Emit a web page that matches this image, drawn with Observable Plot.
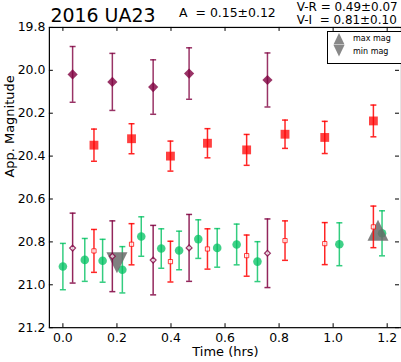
<!DOCTYPE html>
<html>
<head>
<meta charset="utf-8">
<script src="https://cdn.jsdelivr.net/npm/d3@7"></script>
<script src="https://cdn.jsdelivr.net/npm/@observablehq/plot@0.6"></script>
<style>
html, body { margin: 0; padding: 0; overflow: hidden; background: #fff; }
#wrap { position: relative; width: 401px; height: 362px; overflow: hidden; }
#legend { position: absolute; left: 327px; top: 31px; width: 80px; height: 31px; border: 1px solid #000; background: #fff; box-sizing: content-box; }
#legend svg { position: absolute; left: 0; top: 0; }
.lbl { position: absolute; left: 25px; font-family: "DejaVu Sans", sans-serif; font-size: 8px; line-height: 10px; color: #000; white-space: nowrap; }
</style>
</head>
<body>
<div id="wrap">
  <div id="chart"></div>
  <div id="legend"></div>
</div>
<script>
// ---- Text ----
const titleText = "2016 UA23";
const ampText = "A\u00a0 = 0.15\u00b10.12";
const vrText = "V-R = 0.49\u00b10.07";
const viText = "V-I\u00a0 = 0.81\u00b10.10";
const xLabel = "Time (hrs)";
const yLabel = "App. Magnitude";
const legendLabels = ["max mag", "min mag"];

// ---- Ticks ----
const xTicks = [0.0, 0.2, 0.4, 0.6, 0.8, 1.0, 1.2];
const yTicks = [19.8, 20.0, 20.2, 20.4, 20.6, 20.8, 21.0, 21.2];

// ---- V band (filled purple diamonds) ----
const vTime = [0.036, 0.183, 0.334, 0.467, 0.757];
const vMag  = [20.019, 20.054, 20.078, 20.015, 20.045];
const vErr  = [0.130, 0.133, 0.127, 0.120, 0.126];

// ---- R band (filled red squares) ----
const rTime = [0.115, 0.254, 0.398, 0.535, 0.680, 0.822, 0.969, 1.149];
const rMag  = [20.349, 20.319, 20.400, 20.340, 20.371, 20.298, 20.313, 20.236];
const rErr  = [0.075, 0.070, 0.070, 0.068, 0.072, 0.066, 0.075, 0.074];

// ---- I band (green circles) ----
const iTime = [0.000, 0.081, 0.147, 0.220, 0.290, 0.364, 0.430, 0.501, 0.571, 0.643, 0.720, 1.023, 1.181];
const iMag  = [20.915, 20.884, 20.888, 20.930, 20.775, 20.831, 20.840, 20.787, 20.828, 20.812, 20.892, 20.811, 20.760];
const iErr  = [0.108, 0.100, 0.100, 0.108, 0.092, 0.092, 0.090, 0.090, 0.090, 0.095, 0.093, 0.100, 0.105];

// ---- R shifted (open red squares) ----
const rcTime = [0.115, 0.254, 0.398, 0.535, 0.680, 0.822, 0.969, 1.149];
const rcMag  = [20.842, 20.811, 20.892, 20.833, 20.864, 20.794, 20.808, 20.730];
const rcErr  = [0.100, 0.096, 0.095, 0.094, 0.096, 0.092, 0.098, 0.097];

// ---- V shifted (open purple diamonds) ----
const vcTime = [0.036, 0.183, 0.334, 0.467, 0.757];
const vcMag  = [20.829, 20.867, 20.885, 20.828, 20.853];
const vcErr  = [0.163, 0.165, 0.162, 0.156, 0.160];

// ---- extremes (grey triangles) ----
const maxTime = [1.166];
const maxMag  = [20.746];
const minTime = [0.200];
const minMag  = [20.897];

// ---- build tables ----
const rows = (t, m, e) => t.map((d, i) => ({t: d, m: m[i], e: e ? e[i] : 0}));
const vData = rows(vTime, vMag, vErr);
const rData = rows(rTime, rMag, rErr);
const iData = rows(iTime, iMag, iErr);
const rcData = rows(rcTime, rcMag, rcErr);
const vcData = rows(vcTime, vcMag, vcErr);
const maxData = rows(maxTime, maxMag);
const minData = rows(minTime, minMag);

// ---- custom symbols ----
const capSym = {draw(ctx, size) { const h = Math.sqrt(size / Math.PI); ctx.moveTo(-h, 0); ctx.lineTo(h, 0); }};
const triUp = {draw(ctx, size) { const h = Math.sqrt(size / Math.PI); ctx.moveTo(0, -h); ctx.lineTo(h, h); ctx.lineTo(-h, h); ctx.closePath(); }};
const triDown = {draw(ctx, size) { const h = Math.sqrt(size / Math.PI); ctx.moveTo(0, h); ctx.lineTo(h, -h); ctx.lineTo(-h, -h); ctx.closePath(); }};

const purple = "#800040";
const red = "#ff0000";
const green = "#00c060";
const grey = "#6a6a6a";

function errorBars(data, color, opacity) {
  return [
    Plot.ruleX(data, {x: "t", y1: d => d.m - d.e, y2: d => d.m + d.e, stroke: color, strokeWidth: 1.5, strokeOpacity: opacity}),
    Plot.dot(data, {x: "t", y: d => d.m - d.e, symbol: capSym, r: 3, stroke: color, strokeWidth: 1.5, strokeOpacity: opacity, fill: "none"}),
    Plot.dot(data, {x: "t", y: d => d.m + d.e, symbol: capSym, r: 3, stroke: color, strokeWidth: 1.5, strokeOpacity: opacity, fill: "none"})
  ];
}

const W = 402, H = 362, mL = 49, mR = 0, mT = 27, mB = 34;
const plotW = W - mL - mR, plotH = H - mT - mB;
const tick = 4;

const chart = Plot.plot({
  width: W,
  height: H,
  marginLeft: mL,
  marginRight: mR,
  marginTop: mT,
  marginBottom: mB,
  style: {fontFamily: "DejaVu Sans, sans-serif", fontSize: "12.5px", color: "black", background: "white", overflow: "visible"},
  x: {domain: [-0.05, 1.253]},
  y: {domain: [19.8, 21.2], reverse: true},
  marks: [
    Plot.axisX({ticks: xTicks, tickSize: 0, tickPadding: 5, tickFormat: d => d.toFixed(1), label: null, fontSize: 12.5}),
    Plot.axisY({ticks: yTicks, tickSize: 0, tickPadding: 4, tickFormat: d => d.toFixed(1), label: null, fontSize: 12.5}),
    Plot.tickX(xTicks, {x: d => d, insetTop: plotH - tick, stroke: "black"}),
    Plot.tickX(xTicks, {x: d => d, insetBottom: plotH - tick, stroke: "black"}),
    Plot.tickY(yTicks, {y: d => d, insetRight: plotW - tick, stroke: "black"}),
    Plot.tickY(yTicks, {y: d => d, insetLeft: plotW - tick - 2, insetRight: 2, stroke: "black"}),

    ...errorBars(iData, green, 0.8),
    Plot.dot(iData, {x: "t", y: "m", r: 4.3, fill: green, fillOpacity: 0.75, stroke: "none"}),

    Plot.dot(maxData, {x: "t", y: "m", symbol: triUp, r: 10.5, fill: grey, fillOpacity: 0.85, stroke: "none"}),
    Plot.dot(minData, {x: "t", y: "m", symbol: triDown, r: 10.5, fill: grey, fillOpacity: 0.85, stroke: "none"}),

    ...errorBars(rcData, red, 0.85),
    Plot.dot(rcData, {x: "t", y: "m", symbol: "square", r: 2.4, fill: "white", fillOpacity: 0.7, stroke: red, strokeOpacity: 0.75, strokeWidth: 1}),
    ...errorBars(vcData, purple, 0.85),
    Plot.dot(vcData, {x: "t", y: "m", symbol: "diamond2", r: 2.6, fill: "white", fillOpacity: 0.7, stroke: purple, strokeOpacity: 0.8, strokeWidth: 1.3}),

    ...errorBars(vData, purple, 0.8),
    Plot.dot(vData, {x: "t", y: "m", symbol: "diamond2", r: 4.6, fill: purple, fillOpacity: 0.8, stroke: "none"}),
    ...errorBars(rData, red, 0.85),
    Plot.dot(rData, {x: "t", y: "m", symbol: "square", r: 5, fill: red, fillOpacity: 0.75, stroke: "none"}),

    Plot.frame({stroke: "black", strokeWidth: 1.2}),

    Plot.text([xLabel], {text: d => d, frameAnchor: "bottom", dy: 28, fontSize: 13}),
    Plot.text([yLabel], {text: d => d, frameAnchor: "left", dx: -40, rotate: -90, fontSize: 13}),

    Plot.text([titleText], {text: d => d, frameAnchor: "top-left", textAnchor: "start", lineAnchor: "bottom", dx: 1, dy: -5, fontSize: 19}),
    Plot.text([ampText], {text: d => d, frameAnchor: "top-left", textAnchor: "start", lineAnchor: "bottom", dx: 130, dy: -10, fontSize: 12.5}),
    Plot.text([vrText], {text: d => d, frameAnchor: "top-left", textAnchor: "start", lineAnchor: "bottom", dx: 248, dy: -16, fontSize: 12}),
    Plot.text([viText], {text: d => d, frameAnchor: "top-left", textAnchor: "start", lineAnchor: "bottom", dx: 248, dy: -3, fontSize: 12})
  ]
});
document.getElementById("chart").appendChild(chart);

// ---- legend (decoration, HTML overlay) ----
const legend = document.getElementById("legend");
legend.innerHTML =
  `<svg width="24" height="31" viewBox="0 0 24 31">
     <path d="M11,1 L16.5,12.5 L5.5,12.5 Z" fill="${grey}" fill-opacity="0.8"/>
     <path d="M11,24.5 L16.5,13 L5.5,13 Z" fill="${grey}" fill-opacity="0.8"/>
   </svg>`;
legendLabels.forEach((t, i) => {
  const s = document.createElement("div");
  s.className = "lbl";
  s.style.top = (2 + i * 13) + "px";
  s.textContent = t;
  legend.appendChild(s);
});
</script>
</body>
</html>
